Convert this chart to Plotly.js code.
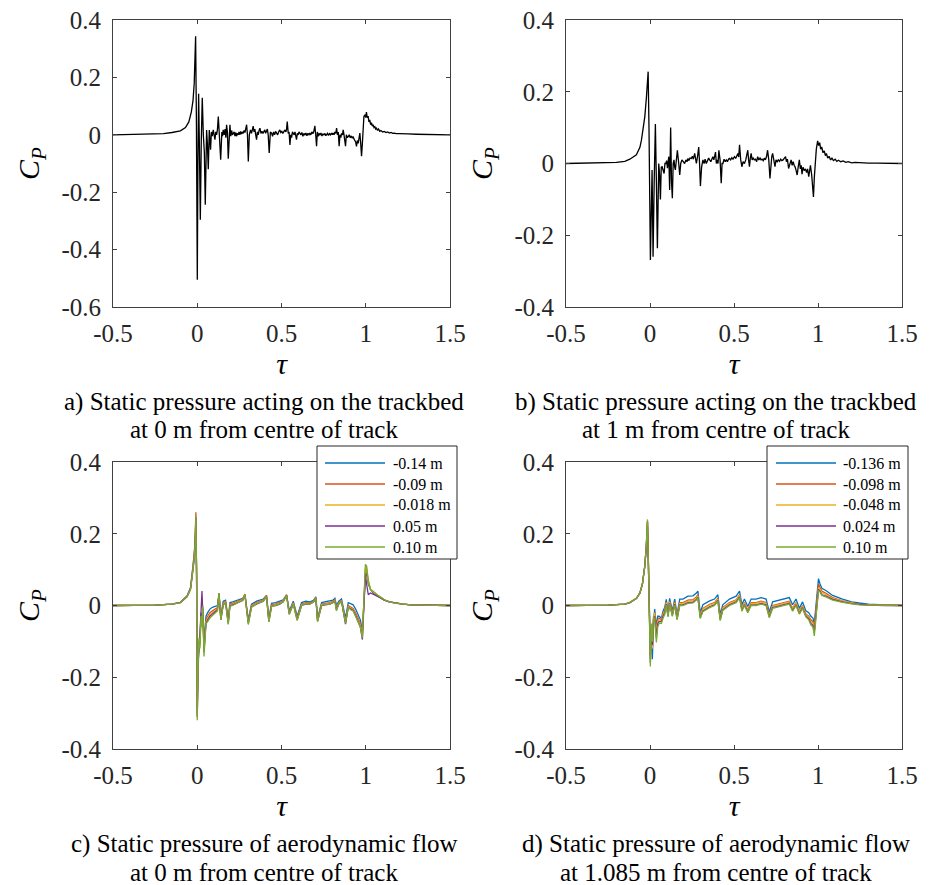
<!DOCTYPE html>
<html>
<head>
<meta charset="utf-8">
<script src="https://cdn.plot.ly/plotly-3.0.1.min.js"></script>
<style>html,body{margin:0;padding:0;background:#fff;}#chart{width:936px;height:885px;}</style>
</head>
<body>
<div id="chart"></div>
<script>
// ---------- Panel a: static pressure on trackbed, 0 m ----------
const tauA = [
 -0.5, -0.3, -0.2, -0.15, -0.1, -0.07, -0.05, -0.035, -0.025, -0.018,
 -0.013, -0.0097, -0.005, 0.0003, 0.004, 0.0082, 0.013, 0.0182, 0.024, 0.0298,
 0.036, 0.042, 0.0476, 0.0555, 0.060, 0.0654, 0.0714, 0.075, 0.079, 0.084,
 0.089, 0.095, 0.100, 0.105, 0.110, 0.115, 0.120, 0.125, 0.132, 0.139,
 0.146, 0.150, 0.154, 0.160, 0.165, 0.170, 0.174, 0.179, 0.184, 0.189,
 0.194, 0.199, 0.204, 0.209, 0.214, 0.219, 0.224, 0.229, 0.233, 0.238,
 0.243, 0.248, 0.253, 0.258, 0.263, 0.268, 0.273, 0.278, 0.283, 0.288,
 0.293, 0.298, 0.303, 0.309, 0.316, 0.322, 0.327, 0.332, 0.337, 0.342,
 0.347, 0.352, 0.357, 0.362, 0.367, 0.372, 0.378, 0.384, 0.390, 0.396,
 0.401, 0.406, 0.411, 0.416, 0.421, 0.427, 0.434, 0.441, 0.447, 0.453,
 0.459, 0.465, 0.471, 0.477, 0.483, 0.490, 0.496, 0.502, 0.508, 0.514,
 0.520, 0.526, 0.530, 0.534, 0.540, 0.545, 0.550, 0.555, 0.560, 0.565,
 0.570, 0.575, 0.580, 0.585, 0.589, 0.594, 0.599, 0.604, 0.609, 0.615,
 0.621, 0.627, 0.633, 0.639, 0.645, 0.651, 0.657, 0.663, 0.668, 0.674,
 0.680, 0.686, 0.692, 0.698, 0.703, 0.708, 0.713, 0.718, 0.723, 0.728,
 0.734, 0.740, 0.746, 0.752, 0.758, 0.763, 0.767, 0.773, 0.779, 0.785,
 0.791, 0.797, 0.802, 0.807, 0.812, 0.817, 0.822, 0.827, 0.832, 0.837,
 0.842, 0.847, 0.852, 0.857, 0.862, 0.866, 0.871, 0.876, 0.880, 0.885,
 0.890, 0.896, 0.902, 0.908, 0.914, 0.920, 0.925, 0.930, 0.935, 0.940,
 0.945, 0.950, 0.955, 0.960, 0.965, 0.970, 0.975, 0.980, 0.985, 0.989,
 0.995, 1.0, 1.004, 1.009, 1.014, 1.019, 1.024, 1.029, 1.034, 1.039,
 1.044, 1.049, 1.054, 1.059, 1.064, 1.07, 1.076, 1.083, 1.09, 1.1,
 1.11, 1.12, 1.13, 1.14, 1.15, 1.16, 1.17, 1.18, 1.2, 1.22,
 1.25, 1.3, 1.35, 1.4, 1.5
];
const cpA = [
 0, 0.001, 0.004, 0.008, 0.014, 0.025, 0.045, 0.08, 0.12, 0.18,
 0.26, 0.343, 0.05, -0.505, -0.1, 0.143, -0.05, -0.296, -0.02, 0.129,
 0.0, -0.06, -0.244, 0.017, -0.03, -0.12, 0.017, -0.01, -0.052, 0.01,
 -0.005, 0.017, -0.01, -0.017, 0.01, 0.0, 0.02, 0.064, -0.01, -0.087,
 0.01, -0.005, 0.017, 0.0, 0.02, -0.01, 0.035, 0.01, -0.083, 0.02,
 0.035, -0.005, 0.015, 0.0, 0.005, 0.01, -0.005, 0.008, -0.005, 0.005,
 0.0, 0.01, 0.0, 0.012, 0.003, 0.01, 0.005, 0.015, 0.008, 0.02,
 0.035, 0.0, -0.093, 0.0, 0.017, 0.005, 0.02, 0.03, 0.01, 0.02,
 0.0, -0.017, 0.01, 0.0, 0.015, 0.023, 0.005, 0.012, 0.005, 0.01,
 0.017, 0.005, 0.012, 0.02, 0.0, -0.063, 0.01, 0.006, -0.005, 0.01,
 0.0, 0.012, 0.006, 0.0, 0.01, 0.017, 0.008, 0.012, 0.005, 0.012,
 0.017, 0.01, 0.02, 0.046, 0.005, 0.01, -0.035, 0.0, -0.01, 0.01,
 0.006, 0.0, 0.01, -0.005, -0.017, 0.005, 0.0, 0.01, 0.006, 0.0,
 0.008, -0.005, 0.005, 0.0, 0.006, -0.003, 0.005, 0.0, 0.006, 0.0,
 0.01, 0.004, 0.012, 0.031, 0.0, -0.04, 0.01, -0.005, 0.005, 0.0,
 0.006, -0.004, 0.003, 0.0, 0.005, -0.003, 0.0, 0.005, -0.002, 0.004,
 0.0, 0.006, 0.0, 0.006, 0.0, 0.01, 0.005, 0.023, 0.0, 0.01,
 -0.04, 0.0, -0.01, 0.005, 0.0, 0.017, 0.0, -0.015, -0.04, 0.0,
 -0.01, -0.006, 0.0, -0.01, -0.004, -0.012, -0.006, -0.015, -0.02, -0.025,
 -0.04, -0.02, -0.03, -0.01, 0.006, -0.03, -0.075, -0.03, 0.03, 0.064,
 0.07, 0.06, 0.079, 0.06, 0.065, 0.045, 0.052, 0.035, 0.042, 0.03,
 0.035, 0.025, 0.028, 0.02, 0.023, 0.015, 0.02, 0.012, 0.015, 0.01,
 0.012, 0.008, 0.01, 0.006, 0.008, 0.005, 0.006, 0.004, 0.004, 0.003,
 0.003, 0.002, 0.002, 0.001, 0.0
];

// ---------- Panel b: static pressure on trackbed, 1 m ----------
const tauB = [
 -0.5, -0.3, -0.2, -0.15, -0.12, -0.081, -0.06, -0.051, -0.04, -0.031,
 -0.021, -0.015, -0.011, -0.006, 0.0024, 0.0124, 0.0183, 0.025, 0.032, 0.038,
 0.044, 0.052, 0.057, 0.062, 0.067, 0.072, 0.078, 0.084, 0.089, 0.094,
 0.099, 0.104, 0.108, 0.112, 0.117, 0.123, 0.128, 0.133, 0.138, 0.143,
 0.147, 0.151, 0.157, 0.163, 0.170, 0.177, 0.183, 0.190, 0.198, 0.206,
 0.214, 0.220, 0.226, 0.232, 0.238, 0.246, 0.252, 0.258, 0.266, 0.271,
 0.276, 0.283, 0.290, 0.295, 0.300, 0.307, 0.315, 0.322, 0.328, 0.335,
 0.342, 0.349, 0.355, 0.362, 0.368, 0.374, 0.380, 0.386, 0.390, 0.395,
 0.400, 0.405, 0.410, 0.417, 0.424, 0.429, 0.434, 0.441, 0.448, 0.454,
 0.461, 0.467, 0.473, 0.480, 0.487, 0.494, 0.503, 0.510, 0.517, 0.523,
 0.528, 0.533, 0.540, 0.547, 0.554, 0.562, 0.570, 0.576, 0.582, 0.587,
 0.592, 0.597, 0.602, 0.608, 0.614, 0.621, 0.628, 0.635, 0.641, 0.648,
 0.655, 0.661, 0.667, 0.674, 0.680, 0.687, 0.694, 0.700, 0.707, 0.714,
 0.720, 0.725, 0.730, 0.737, 0.744, 0.750, 0.757, 0.764, 0.771, 0.778,
 0.785, 0.792, 0.800, 0.807, 0.812, 0.818, 0.825, 0.832, 0.840, 0.846,
 0.852, 0.858, 0.864, 0.870, 0.876, 0.882, 0.889, 0.895, 0.900, 0.905,
 0.911, 0.918, 0.925, 0.932, 0.938, 0.945, 0.950, 0.955, 0.962, 0.968,
 0.973, 0.978, 0.984, 0.990, 0.998, 1.004, 1.010, 1.016, 1.022, 1.030,
 1.037, 1.044, 1.050, 1.058, 1.066, 1.075, 1.083, 1.092, 1.102, 1.112,
 1.122, 1.135, 1.15, 1.165, 1.18, 1.2, 1.22, 1.245, 1.3, 1.35,
 1.4, 1.45, 1.5
];
const cpB = [
 0, 0.001, 0.003, 0.006, 0.012, 0.024, 0.045, 0.065, 0.095, 0.13,
 0.186, 0.225, 0.256, 0.1, -0.269, -0.018, -0.26, -0.05, 0.11, -0.05,
 -0.236, 0.0, -0.03, -0.1, -0.01, -0.009, -0.02, -0.028, 0.0, 0.0,
 0.008, -0.013, 0.005, 0.019, -0.074, 0.1, -0.05, -0.097, 0.0, 0.01,
 -0.01, -0.018, 0.01, 0.037, 0.005, -0.032, 0.0, 0.01, 0.005, 0.0,
 0.01, 0.005, 0.014, 0.008, 0.015, 0.014, 0.02, 0.012, 0.028, 0.01,
 0.0, 0.02, 0.046, 0.0, -0.063, -0.01, 0.01, 0.0, 0.012, 0.0,
 0.01, 0.015, 0.01, 0.005, 0.012, 0.019, 0.01, 0.02, 0.032, 0.0,
 0.01, 0.0, 0.037, 0.01, -0.055, 0.0, 0.0, 0.012, 0.005, 0.01,
 0.005, 0.012, 0.014, 0.01, 0.016, 0.012, 0.019, 0.014, 0.022, 0.028,
 0.018, 0.052, 0.01, -0.009, 0.005, 0.0, 0.01, 0.02, 0.037, 0.01,
 -0.009, 0.015, 0.028, 0.01, 0.015, 0.01, 0.012, 0.005, 0.019, 0.01,
 0.015, 0.01, 0.012, 0.008, 0.015, 0.01, 0.02, 0.037, 0.01, -0.042,
 0.005, 0.02, 0.028, 0.005, -0.009, 0.01, 0.005, 0.01, 0.006, 0.012,
 0.008, 0.01, 0.015, 0.019, 0.005, 0.012, -0.014, 0.0, 0.01, -0.005,
 0.005, -0.005, -0.01, -0.02, -0.032, -0.01, 0.01, -0.015, -0.005, -0.03,
 -0.01, -0.02, -0.015, -0.025, -0.015, -0.037, -0.02, -0.005, -0.03, -0.06,
 -0.093, -0.04, 0.01, 0.04, 0.063, 0.05, 0.058, 0.04, 0.046, 0.03,
 0.035, 0.022, 0.028, 0.015, 0.02, 0.01, 0.015, 0.008, 0.012, 0.006,
 0.009, 0.005, 0.007, 0.003, 0.005, 0.002, 0.003, 0.002, 0.001, 0.001,
 0.0, 0.0, 0.0
];

// ---------- Panel c: aerodynamic flow, 0 m ----------
const namesC = ['-0.14 m', '-0.09 m', '-0.018 m', '0.05 m', '0.10 m'];
const tauC = [
 -0.5, -0.25, -0.15, -0.1, -0.06, -0.04, -0.028, -0.018, -0.012, -0.008,
 -0.004, 0.0, 0.005, 0.010, 0.016, 0.022, 0.028, 0.033, 0.040, 0.046,
 0.052, 0.062, 0.075, 0.090, 0.105, 0.120, 0.129, 0.140, 0.154, 0.168,
 0.184, 0.194, 0.210, 0.230, 0.253, 0.270, 0.283, 0.303, 0.322, 0.352,
 0.392, 0.411, 0.425, 0.441, 0.465, 0.490, 0.510, 0.530, 0.546, 0.570,
 0.593, 0.619, 0.645, 0.668, 0.690, 0.704, 0.714, 0.738, 0.760, 0.787,
 0.805, 0.817, 0.826, 0.840, 0.856, 0.880, 0.896, 0.910, 0.925, 0.940,
 0.955, 0.968, 0.980, 0.990, 0.998, 1.005, 1.015, 1.028, 1.045, 1.065,
 1.085, 1.11, 1.14, 1.18, 1.22, 1.27, 1.33, 1.4, 1.5
];
const cpC1 = [
 0, 0.001, 0.004, 0.009, 0.027, 0.05, 0.1, 0.14, 0.17, 0.23,
 0.1, -0.28, -0.14, -0.1, -0.11, -0.02, -0.05, -0.01, -0.1, -0.06,
 -0.03, -0.02, -0.01, -0.005, -0.002, 0.0, 0.03, -0.03, 0.012, 0.015,
 -0.04, 0.008, 0.01, 0.014, 0.018, 0.02, 0.03, -0.04, 0.004, 0.012,
 0.018, 0.028, -0.035, 0.006, 0.008, 0.012, 0.016, 0.03, -0.015, 0.012,
 -0.03, 0.008, 0.012, 0.01, 0.014, 0.024, -0.035, 0.008, 0.01, 0.012,
 0.015, 0.02, 0.0, 0.012, 0.018, -0.035, 0.008, 0.005, 0.002, -0.01,
 -0.025, -0.04, -0.07, 0.0, 0.08, 0.095, 0.06, 0.045, 0.035, 0.028,
 0.022, 0.015, 0.01, 0.006, 0.004, 0.002, 0.001, 0, 0
];
const cpC2 = [
 0, 0.001, 0.004, 0.009, 0.026, 0.048, 0.095, 0.14, 0.2, 0.26,
 0.09, -0.3, -0.15, -0.11, -0.1, -0.025, -0.055, -0.005, -0.12, -0.075,
 -0.04, -0.03, -0.02, -0.015, -0.01, -0.006, 0.032, -0.035, 0.006, 0.012,
 -0.045, 0.004, 0.006, 0.01, 0.014, 0.018, 0.032, -0.045, 0.0, 0.008,
 0.015, 0.028, -0.04, 0.002, 0.004, 0.008, 0.013, 0.03, -0.02, 0.008,
 -0.035, 0.004, 0.008, 0.007, 0.012, 0.022, -0.04, 0.004, 0.006, 0.008,
 0.012, 0.016, -0.008, 0.008, 0.015, -0.045, 0.0, -0.004, -0.008, -0.02,
 -0.035, -0.05, -0.08, 0.01, 0.1, 0.1, 0.065, 0.045, 0.037, 0.03,
 0.024, 0.016, 0.01, 0.006, 0.004, 0.002, 0.001, 0, 0
];
const cpC3 = [
 0, 0.001, 0.004, 0.008, 0.025, 0.047, 0.092, 0.135, 0.19, 0.24,
 0.085, -0.31, -0.16, -0.12, -0.11, -0.03, -0.06, -0.01, -0.13, -0.08,
 -0.045, -0.035, -0.025, -0.02, -0.015, -0.01, 0.033, -0.038, 0.004, 0.01,
 -0.048, 0.002, 0.004, 0.008, 0.012, 0.016, 0.031, -0.048, -0.002, 0.006,
 0.014, 0.026, -0.042, 0.0, 0.002, 0.006, 0.012, 0.029, -0.022, 0.006,
 -0.038, 0.002, 0.006, 0.005, 0.011, 0.021, -0.042, 0.002, 0.004, 0.006,
 0.01, 0.014, -0.01, 0.006, 0.013, -0.047, -0.003, -0.008, -0.012, -0.025,
 -0.04, -0.055, -0.085, 0.015, 0.105, 0.105, 0.068, 0.045, 0.037, 0.03,
 0.024, 0.016, 0.01, 0.006, 0.004, 0.002, 0.001, 0, 0
];
const cpC4 = [
 0, 0.001, 0.004, 0.008, 0.025, 0.046, 0.09, 0.13, 0.19, 0.245,
 0.08, -0.31, -0.16, -0.13, -0.08, -0.02, 0.04, -0.02, -0.13, -0.085,
 -0.05, -0.04, -0.03, -0.024, -0.018, -0.012, 0.034, -0.04, 0.002, 0.008,
 -0.05, 0.0, 0.002, 0.006, 0.01, 0.014, 0.03, -0.05, -0.004, 0.004,
 0.012, 0.025, -0.045, -0.002, 0.0, 0.004, 0.01, 0.028, -0.024, 0.004,
 -0.04, 0.0, 0.004, 0.004, 0.01, 0.02, -0.044, 0.0, 0.002, 0.004,
 0.008, 0.012, -0.012, 0.004, 0.012, -0.052, -0.005, -0.01, -0.014, -0.028,
 -0.045, -0.06, -0.095, 0.01, 0.09, 0.06, 0.03, 0.035, 0.032, 0.027,
 0.022, 0.015, 0.01, 0.006, 0.004, 0.002, 0.001, 0, 0
];
const cpC5 = [
 0, 0.001, 0.004, 0.008, 0.025, 0.045, 0.09, 0.13, 0.18, 0.25,
 0.08, -0.32, -0.17, -0.09, -0.12, -0.03, -0.06, 0.0, -0.142, -0.09,
 -0.05, -0.045, -0.035, -0.028, -0.022, -0.015, 0.035, -0.04, 0.0, 0.008,
 -0.053, -0.002, 0.0, 0.005, 0.01, 0.015, 0.03, -0.053, -0.005, 0.005,
 0.012, 0.025, -0.046, -0.003, 0.0, 0.005, 0.01, 0.028, -0.025, 0.004,
 -0.042, 0.0, 0.005, 0.004, 0.01, 0.02, -0.045, 0.0, 0.003, 0.004,
 0.008, 0.012, -0.015, 0.005, 0.012, -0.05, -0.005, -0.012, -0.015, -0.03,
 -0.045, -0.06, -0.09, 0.02, 0.115, 0.11, 0.07, 0.045, 0.038, 0.03,
 0.024, 0.016, 0.01, 0.006, 0.004, 0.002, 0.001, 0.0, 0
];

// ---------- Panel d: aerodynamic flow, 1.085 m ----------
const namesD = ['-0.136 m', '-0.098 m', '-0.048 m', '0.024 m', '0.10 m'];
const tauD = [
 -0.5, -0.25, -0.15, -0.12, -0.08, -0.06, -0.045, -0.031, -0.022, -0.015,
 -0.01, -0.005, 0.002, 0.008, 0.014, 0.021, 0.028, 0.038, 0.046, 0.054,
 0.068, 0.078, 0.088, 0.097, 0.107, 0.117, 0.133, 0.147, 0.161, 0.177,
 0.196, 0.226, 0.256, 0.276, 0.285, 0.299, 0.315, 0.355, 0.384, 0.404,
 0.418, 0.433, 0.473, 0.513, 0.533, 0.547, 0.562, 0.582, 0.602, 0.631,
 0.661, 0.691, 0.71, 0.73, 0.77, 0.81, 0.829, 0.849, 0.869, 0.889,
 0.908, 0.928, 0.945, 0.958, 0.97, 0.978, 0.987, 0.995, 1.003, 1.012,
 1.023, 1.047, 1.087, 1.146, 1.2, 1.245, 1.3, 1.4, 1.5
];
const cpD1 = [
 0, 0.001, 0.004, 0.008, 0.02, 0.035, 0.06, 0.11, 0.16, 0.22,
 0.12, 0.0, -0.12, -0.08, -0.15, -0.05, -0.01, -0.06, -0.03, -0.03,
 -0.035, -0.015, -0.005, 0.017, -0.018, 0.02, -0.015, 0.018, -0.025, 0.018,
 0.018, 0.026, 0.027, 0.035, 0.04, -0.02, 0.002, 0.013, 0.018, 0.03,
 -0.025, 0.002, 0.018, 0.026, 0.04, 0.002, 0.018, -0.003, 0.018, 0.018,
 0.022, 0.018, -0.018, 0.01, 0.014, 0.018, 0.022, 0.002, 0.018, -0.008,
 0.01, -0.015, -0.02, -0.03, -0.035, -0.05, -0.005, 0.04, 0.075, 0.06,
 0.048, 0.042, 0.028, 0.018, 0.01, 0.007, 0.004, 0.002, 0.001
];
const cpD2 = [
 0, 0.001, 0.004, 0.008, 0.02, 0.035, 0.06, 0.11, 0.165, 0.235,
 0.13, 0.0, -0.14, -0.07, -0.12, -0.04, -0.02, -0.07, -0.04, -0.035,
 -0.04, -0.022, -0.012, 0.01, -0.024, 0.012, -0.022, 0.01, -0.032, 0.008,
 0.008, 0.015, 0.016, 0.024, 0.03, -0.028, -0.008, 0.003, 0.008, 0.02,
 -0.033, -0.006, 0.008, 0.016, 0.03, -0.008, 0.008, -0.012, 0.008, 0.008,
 0.012, 0.008, -0.026, 0.0, 0.004, 0.008, 0.012, -0.008, 0.008, -0.016,
 0.0, -0.024, -0.03, -0.04, -0.045, -0.06, -0.015, 0.03, 0.06, 0.05,
 0.04, 0.034, 0.022, 0.013, 0.007, 0.004, 0.002, 0.001, 0
];
const cpD3 = [
 0, 0.001, 0.004, 0.008, 0.02, 0.035, 0.06, 0.11, 0.165, 0.232,
 0.13, 0.0, -0.15, -0.07, -0.12, -0.04, -0.02, -0.08, -0.045, -0.04,
 -0.042, -0.025, -0.015, 0.008, -0.026, 0.01, -0.024, 0.008, -0.034, 0.006,
 0.006, 0.012, 0.013, 0.021, 0.027, -0.03, -0.01, 0.001, 0.006, 0.018,
 -0.035, -0.008, 0.006, 0.014, 0.028, -0.01, 0.006, -0.014, 0.006, 0.006,
 0.01, 0.006, -0.028, -0.002, 0.002, 0.006, 0.01, -0.01, 0.006, -0.018,
 -0.002, -0.026, -0.033, -0.045, -0.05, -0.07, -0.02, 0.025, 0.05, 0.045,
 0.036, 0.03, 0.02, 0.012, 0.006, 0.003, 0.002, 0.001, 0
];
const cpD4 = [
 0, 0.001, 0.004, 0.008, 0.02, 0.035, 0.06, 0.11, 0.165, 0.235,
 0.13, 0.0, -0.16, -0.06, -0.11, -0.035, -0.03, -0.09, -0.05, -0.045,
 -0.045, -0.03, -0.02, 0.004, -0.03, 0.006, -0.028, 0.004, -0.038, 0.002,
 0.002, 0.008, 0.009, 0.017, 0.023, -0.034, -0.015, -0.004, 0.002, 0.014,
 -0.04, -0.012, 0.002, 0.01, 0.024, -0.014, 0.002, -0.018, 0.002, 0.002,
 0.006, 0.002, -0.032, -0.006, -0.002, 0.002, 0.006, -0.014, 0.002, -0.022,
 -0.006, -0.03, -0.037, -0.05, -0.055, -0.075, -0.025, 0.02, 0.045, 0.04,
 0.03, 0.026, 0.017, 0.01, 0.005, 0.003, 0.001, 0.0, 0
];
const cpD5 = [
 0, 0.001, 0.004, 0.008, 0.02, 0.035, 0.06, 0.11, 0.165, 0.24,
 0.13, 0.0, -0.17, -0.05, -0.1, -0.03, -0.04, -0.103, -0.06, -0.05,
 -0.05, -0.035, -0.025, 0.002, -0.032, 0.004, -0.03, 0.002, -0.04, 0.0,
 0.0, 0.006, 0.007, 0.015, 0.021, -0.036, -0.017, -0.006, 0.0, 0.012,
 -0.042, -0.014, 0.0, 0.008, 0.022, -0.016, 0.0, -0.02, 0.0, 0.0,
 0.004, 0.0, -0.034, -0.008, -0.004, 0.0, 0.004, -0.016, 0.0, -0.024,
 -0.008, -0.032, -0.04, -0.055, -0.06, -0.085, -0.03, 0.015, 0.042, 0.038,
 0.028, 0.024, 0.015, 0.009, 0.005, 0.002, 0.001, 0.0, 0
];

// ---------- Ticks and labels ----------
const xTickVals = [-0.5, 0, 0.5, 1, 1.5];
const xTickText = ['-0.5', '0', '0.5', '1', '1.5'];
const yTickValsA = [-0.6, -0.4, -0.2, 0, 0.2, 0.4];
const yTickTextA = ['-0.6', '-0.4', '-0.2', '0', '0.2', '0.4'];
const yTickValsB = [-0.4, -0.2, 0, 0.2, 0.4];
const yTickTextB = ['-0.4', '-0.2', '0', '0.2', '0.4'];
const xTitle = '<i>τ</i>';
const yTitle = '<i>C</i><sub><i>P</i></sub>';
const captionsLine1 = ['a) Static pressure acting on the trackbed', 'b) Static pressure acting on the trackbed',
                       'c) Static pressure of aerodynamic flow', 'd) Static pressure of aerodynamic flow'];
const captionsLine2 = ['at 0 m from centre of track', 'at 1 m from centre of track',
                       'at 0 m from centre of track', 'at 1.085 m from centre of track'];
const seriesColors = ['#0072BD', '#D95319', '#EDB120', '#7E2F8E', '#77AC30'];

// ---------- Build ----------
const W = 936, H = 885;
const px = v => v / W;
const py = v => 1 - v / H;
const FONT = 'Liberation Serif';

const traces = [];
traces.push({x: tauA, y: cpA, type: 'scatter', mode: 'lines', xaxis: 'x', yaxis: 'y',
  line: {color: '#000', width: 1.3}, showlegend: false, hoverinfo: 'skip'});
traces.push({x: tauB, y: cpB, type: 'scatter', mode: 'lines', xaxis: 'x2', yaxis: 'y2',
  line: {color: '#000', width: 1.3}, showlegend: false, hoverinfo: 'skip'});
[cpC1, cpC2, cpC3, cpC4, cpC5].forEach((s, i) => traces.push({
  x: tauC, y: s, type: 'scatter', mode: 'lines', xaxis: 'x3', yaxis: 'y3', name: namesC[i],
  showlegend: false, line: {color: seriesColors[i], width: 1.3}}));
[cpD1, cpD2, cpD3, cpD4, cpD5].forEach((s, i) => traces.push({
  x: tauD, y: s, type: 'scatter', mode: 'lines', xaxis: 'x4', yaxis: 'y4', name: namesD[i],
  showlegend: false, line: {color: seriesColors[i], width: 1.3}}));

const axCommon = {
  showline: true, linecolor: '#404040', linewidth: 1, mirror: 'ticks',
  ticks: 'inside', ticklen: 4, tickwidth: 1, tickcolor: '#404040',
  showgrid: false, zeroline: false, tickmode: 'array',
  tickfont: {family: FONT, size: 25, color: '#262626'}
};
const xAx = (dom, anchor) => Object.assign({}, axCommon, {domain: dom, anchor: anchor,
  range: [-0.5, 1.5], tickvals: xTickVals, ticktext: xTickText, ticklabelstandoff: 4,
  title: {text: xTitle, font: {family: FONT, size: 30, color: '#000'}, standoff: 4}});
const yAx = (dom, anchor, rng, tv, tt) => Object.assign({}, axCommon, {domain: dom, anchor: anchor,
  range: rng, tickvals: tv, ticktext: tt, ticklabelstandoff: 6,
  title: {text: yTitle, font: {family: FONT, size: 30, color: '#000'}, standoff: 12}});

const xDomL = [px(113), px(450)], xDomR = [px(566), px(902)];
const yDomT = [py(307), py(20)], yDomB = [py(749), py(462)];

// ---------- Legend boxes (panels c and d) ----------
const legendBoxes = [
  {x0: 317, x1: 457, y0: 446, y1: 559, lineX0: 325, lineX1: 385, textX: 391, names: namesC},
  {x0: 767, x1: 908, y0: 446, y1: 559, lineX0: 776, lineX1: 836, textX: 841, names: namesD}
];
const legendRowY = [463, 484, 505, 526, 547];

const shapes = [];
const annotations = [];
legendBoxes.forEach(b => {
  shapes.push({type: 'rect', xref: 'paper', yref: 'paper', layer: 'above',
    x0: px(b.x0), x1: px(b.x1), y0: py(b.y1), y1: py(b.y0),
    fillcolor: '#ffffff', line: {color: '#262626', width: 1}});
  b.names.forEach((n, i) => {
    shapes.push({type: 'line', xref: 'paper', yref: 'paper', layer: 'above',
      x0: px(b.lineX0), x1: px(b.lineX1), y0: py(legendRowY[i]), y1: py(legendRowY[i]),
      line: {color: seriesColors[i], width: 1.3}});
    annotations.push({xref: 'paper', yref: 'paper', x: px(b.textX), y: py(legendRowY[i]),
      text: n, showarrow: false, xanchor: 'left', yanchor: 'middle',
      font: {family: FONT, size: 16, color: '#000'}});
  });
});

// ---------- Captions ----------
const capX = [264, 716, 264, 716];
const capY1 = [402, 402, 844, 844];
const capY2 = [430, 430, 872, 872];
for (let i = 0; i < 4; i++) {
  annotations.push({xref: 'paper', yref: 'paper', x: px(capX[i]), y: py(capY1[i]),
    text: captionsLine1[i], showarrow: false, font: {family: FONT, size: 25, color: '#000'},
    xanchor: 'center', yanchor: 'middle'});
  annotations.push({xref: 'paper', yref: 'paper', x: px(capX[i]), y: py(capY2[i]),
    text: captionsLine2[i], showarrow: false, font: {family: FONT, size: 25, color: '#000'},
    xanchor: 'center', yanchor: 'middle'});
}

const layout = {
  width: W, height: H, margin: {l: 0, r: 0, t: 0, b: 0},
  paper_bgcolor: '#fff', plot_bgcolor: '#fff', showlegend: false,
  xaxis: xAx(xDomL, 'y'), yaxis: yAx(yDomT, 'x', [-0.6, 0.4], yTickValsA, yTickTextA),
  xaxis2: xAx(xDomR, 'y2'), yaxis2: yAx(yDomT, 'x2', [-0.4, 0.4], yTickValsB, yTickTextB),
  xaxis3: xAx(xDomL, 'y3'), yaxis3: yAx(yDomB, 'x3', [-0.4, 0.4], yTickValsB, yTickTextB),
  xaxis4: xAx(xDomR, 'y4'), yaxis4: yAx(yDomB, 'x4', [-0.4, 0.4], yTickValsB, yTickTextB),
  shapes: shapes,
  annotations: annotations
};

Plotly.newPlot('chart', traces, layout, {staticPlot: true, displayModeBar: false});
</script>
</body>
</html>
